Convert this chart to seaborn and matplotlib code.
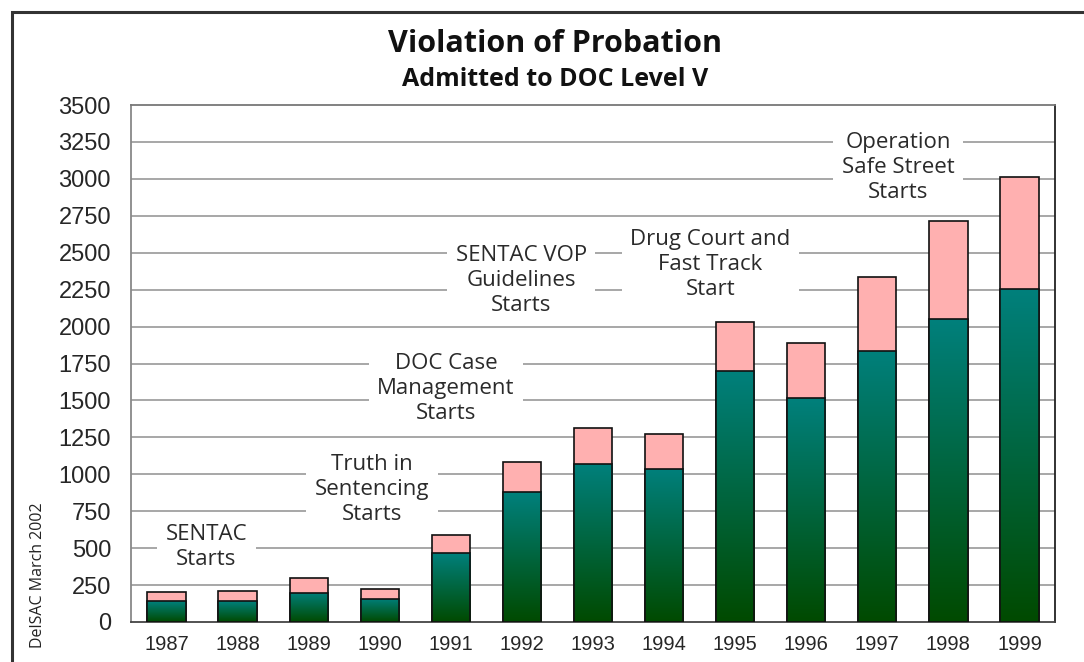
import numpy as np
import pandas as pd
import seaborn as sns
import matplotlib
matplotlib.use("Agg")
from matplotlib import pyplot as plt
from matplotlib.patches import Rectangle
from matplotlib.colors import LinearSegmentedColormap

# data
years = ["1987", "1988", "1989", "1990", "1991", "1992", "1993",
         "1994", "1995", "1996", "1997", "1998", "1999"]
total_vop = [200, 208, 300, 225, 592, 1085, 1315, 1275, 2033, 1887, 2338, 2715, 3011]
level_v = [140, 140, 198, 156, 466, 880, 1071, 1036, 1697, 1514, 1837, 2051, 2252]

event_labels = ["SENTAC\nStarts", "Truth in\nSentencing\nStarts",
                "DOC Case\nManagement\nStarts", "SENTAC VOP\nGuidelines\nStarts",
                "Drug Court and\nFast Track\nStart", "Operation\nSafe Street\nStarts"]
event_x = [0.56, 2.89, 3.93, 4.99, 7.65, 10.29]
event_y = [508, 900, 1584, 2315, 2417, 3080]

df = pd.DataFrame({"year": years, "total": total_vop, "green": level_v})

sns.set_style("white")
TEXT_FONT = ["Open Sans", "DejaVu Sans"]
TICK_FONT = ["Liberation Sans", "DejaVu Sans"]

fig = plt.figure(figsize=(10.84, 6.62), dpi=100)
ax = fig.add_axes([131 / 1084, 1 - 622 / 662, (1055 - 131) / 1084, (622 - 105) / 662])

PINK = "#ffb0b0"
sns.barplot(data=df, x="year", y="total", color=PINK, saturation=1,
            edgecolor="#111111", linewidth=1.2, width=0.54, ax=ax, zorder=3)
n_pink = len(ax.patches)
sns.barplot(data=df, x="year", y="green", color="#007f7a", saturation=1,
            edgecolor="#111111", linewidth=1.2, width=0.54, ax=ax, zorder=5)

# vertical gradient teal -> dark green inside each green bar
cmap = LinearSegmentedColormap.from_list("tg", ["#004a00", "#00807c"])
grad = np.linspace(0, 1, 256).reshape(-1, 1)
for p in ax.patches[n_pink:]:
    x, w, h = p.get_x(), p.get_width(), p.get_height()
    im = ax.imshow(grad, extent=[x, x + w, 0, h], origin="lower", aspect="auto",
                   cmap=cmap, zorder=4, interpolation="bilinear")
    im.set_clip_path(p)
    p.set_facecolor("none")

ax.set_xlim(-0.5, 12.5)
ax.set_ylim(0, 3500)
ax.set_xlabel("")
ax.set_ylabel("")

# y axis ticks and grid
ax.set_yticks(np.arange(0, 3501, 250))
ax.set_yticks(np.arange(125, 3500, 250), minor=True)
for v in np.arange(250, 3500, 250):
    ax.axhline(v, color="#a0a0a0", lw=1.3, zorder=1)
ax.tick_params(axis="y", which="major", direction="inout", length=18.7, width=1.2,
               color="#888888", labelsize=17, pad=5)
ax.tick_params(axis="y", which="minor", direction="inout", length=13, width=1.0,
               color="#888888")
for lab in ax.get_yticklabels():
    lab.set_family(TICK_FONT)

# x axis: ticks at category boundaries
ax.set_xticks(range(len(years)))
ax.set_xticklabels(years)
ax.set_xticks(np.arange(-0.5, 13, 1), minor=True)
ax.tick_params(axis="x", which="major", length=0, labelsize=14.5, pad=9)
ax.tick_params(axis="x", which="minor", direction="inout", length=11.5, width=1.2,
               color="#999999")
for lab in ax.get_xticklabels():
    lab.set_family(TICK_FONT)

ax.spines["left"].set_color("#888888")
ax.spines["top"].set_color("#777777")
ax.spines["bottom"].set_color("#444444")
ax.spines["right"].set_color("#222222")
for s in ax.spines.values():
    s.set_linewidth(1.3)

# event annotations
for lbl, ex, ey in zip(event_labels, event_x, event_y):
    ax.text(ex, ey, lbl, ha="center", va="center", fontsize=16, family=TEXT_FONT,
            color="#2a2a2a", linespacing=1.25, zorder=2,
            bbox=dict(facecolor="white", edgecolor="none", pad=6))

fig.text(555 / 1084, 1 - 44 / 662, "Violation of Probation", ha="center", va="center",
         fontsize=22, fontweight="bold", family=TEXT_FONT, color="#111111")
fig.text(555 / 1084, 1 - 80 / 662, "Admitted to DOC Level V", ha="center", va="center",
         fontsize=18, fontweight="bold", family=TEXT_FONT, color="#111111")
fig.text(38 / 1084, 1 - 575 / 662, "DelSAC March 2002", ha="center", va="center",
         rotation=90, fontsize=11.5, family=TEXT_FONT, color="#222222")

# outer frame (cut off at right and bottom in the original)
fig.add_artist(Rectangle((12 / 1084, -0.5), 2, 0.5 + 1 - 12 / 662, transform=fig.transFigure,
                         fill=False, edgecolor="#333333", lw=2.2, clip_on=False))

fig.savefig("out.png", dpi=100)
